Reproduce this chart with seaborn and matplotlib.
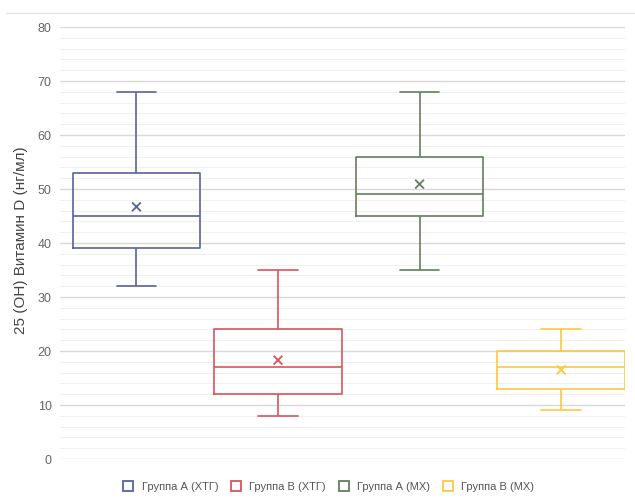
import matplotlib
matplotlib.use("Agg")
import matplotlib.pyplot as plt
from matplotlib.lines import Line2D
from matplotlib.ticker import MultipleLocator
import pandas as pd
import seaborn as sns

# Five-number summaries of 25(OH)D per group (ng/ml)
groups = ["Группа А (ХТГ)", "Группа В (ХТГ)", "Группа А (МХ)", "Группа В (МХ)"]
minimum = [32, 8, 35, 9]
q1 = [39, 12, 45, 13]
median = [45, 17, 49, 17]
q3 = [53, 24, 56, 20]
maximum = [68, 35, 68, 24]
mean = [46.7, 18.3, 50.9, 16.5]
colors = ["#56639a", "#d9545a", "#62805a", "#fcc845"]

rows = []
for g, a, b, c, d, e in zip(groups, minimum, q1, median, q3, maximum):
    for v in (a, b, c, d, e):
        rows.append({"group": g, "value": v})
df = pd.DataFrame(rows)
means = pd.DataFrame({"group": groups, "value": mean})

sns.set_theme(style="white")
plt.rcParams["font.family"] = ["Liberation Sans", "DejaVu Sans"]

fig = plt.figure(figsize=(6.35, 5.0), dpi=100)
ax = fig.add_axes([0.0945, 0.082, 0.8895, 0.864])

palette = dict(zip(groups, colors))
sns.boxplot(data=df, x="group", y="value", hue="group", order=groups,
            palette=palette, fill=False, width=0.9, whis=(0, 100),
            linewidth=1.2, legend=False, ax=ax, capwidths=0.28,
            showfliers=False)
sns.scatterplot(data=means, x="group", y="value", hue="group",
                palette=palette, marker="x", s=40, linewidth=1.3,
                legend=False, ax=ax, zorder=5)

ax.set_ylim(0, 80)
ax.set_xlim(-0.54, 3.45)
ax.yaxis.set_major_locator(MultipleLocator(10))
ax.yaxis.set_minor_locator(MultipleLocator(2))
ax.grid(axis="y", which="major", color="#d9d9d9", linewidth=1.0, zorder=0)
ax.grid(axis="y", which="minor", color="#f0f0f0", linewidth=0.8, zorder=0)
ax.set_axisbelow(True)
for s in ax.spines.values():
    s.set_visible(False)
ax.set_xticks([])
ax.set_xlabel("")
ax.tick_params(axis="y", which="both", length=0, labelsize=9, colors="#666666", pad=6)
ax.set_ylabel("25 (OH) Витамин D (нг/мл)", fontsize=11, color="#444444")
ax.yaxis.set_label_coords(-0.056, 0.507)

handles = [Line2D([], [], linestyle="none", marker="s", markersize=7,
                  markerfacecolor="white", markeredgecolor=c, markeredgewidth=1.3)
           for c in colors]
fig.legend(handles, groups, loc="center", bbox_to_anchor=(0.513, 0.026), ncol=4,
           frameon=False, fontsize=8, handletextpad=0.2, columnspacing=0.6,
           labelcolor="#555555")

fig.add_artist(Line2D([0.01, 1.0], [0.974, 0.974], color="#e6e6e6", linewidth=1.0,
                      transform=fig.transFigure))

fig.savefig("out.png", dpi=100, facecolor="white")
